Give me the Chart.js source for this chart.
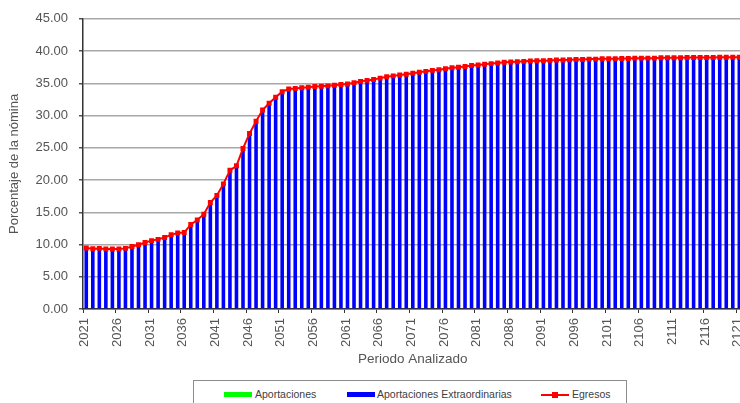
<!DOCTYPE html>
<html>
<head>
<meta charset="utf-8">
<script src="https://cdn.jsdelivr.net/npm/chart.js@4/dist/chart.umd.min.js"></script>
<style>
  html, body { margin: 0; padding: 0; background: #fff; overflow: hidden; width: 740px; height: 403px; }
  #wrap { position: relative; width: 740px; height: 403px; overflow: hidden; }
  #chart { position: absolute; left: 0; top: 0; }
  #legend { position: absolute; left: 193px; top: 380px; width: 432px; height: 40px; border: 1px solid #8c8c8c; background: #fff; }
  .lg { position: absolute; font: 10.5px "Liberation Sans", Arial, sans-serif; color: #404040; top: 7px; line-height: 12px; white-space: nowrap; }
  .sw { position: absolute; top: 11px; width: 28px; height: 5px; }
</style>
</head>
<body>
<div id="wrap">
  <canvas id="chart" width="760" height="403"></canvas>
  <div id="legend">
    <div class="sw" style="left:30px;background:#00ff00"></div>
    <div class="lg" style="left:61px">Aportaciones</div>
    <div class="sw" style="left:153px;background:#0000ff"></div>
    <div class="lg" style="left:183px">Aportaciones Extraordinarias</div>
    <div class="sw" style="left:347px;top:13px;height:2px;background:#ff0000"></div>
    <div class="sw" style="left:358px;top:11px;width:6px;height:6px;background:#ff0000"></div>
    <div class="lg" style="left:378px">Egresos</div>
  </div>
</div>
<script>
const years = [
  2021, 2022, 2023, 2024, 2025, 2026, 2027, 2028, 2029, 2030,
  2031, 2032, 2033, 2034, 2035, 2036, 2037, 2038, 2039, 2040,
  2041, 2042, 2043, 2044, 2045, 2046, 2047, 2048, 2049, 2050,
  2051, 2052, 2053, 2054, 2055, 2056, 2057, 2058, 2059, 2060,
  2061, 2062, 2063, 2064, 2065, 2066, 2067, 2068, 2069, 2070,
  2071, 2072, 2073, 2074, 2075, 2076, 2077, 2078, 2079, 2080,
  2081, 2082, 2083, 2084, 2085, 2086, 2087, 2088, 2089, 2090,
  2091, 2092, 2093, 2094, 2095, 2096, 2097, 2098, 2099, 2100,
  2101, 2102, 2103, 2104, 2105, 2106, 2107, 2108, 2109, 2110,
  2111, 2112, 2113, 2114, 2115, 2116, 2117, 2118, 2119, 2120,
  2121
];

const aportaciones = [
  0, 0, 0, 0, 0, 0, 0, 0, 0, 0,
  0, 0, 0, 0, 0, 0, 0, 0, 0, 0,
  0, 0, 0, 0, 0, 0, 0, 0, 0, 0,
  0, 0, 0, 0, 0, 0, 0, 0, 0, 0,
  0, 0, 0, 0, 0, 0, 0, 0, 0, 0,
  0, 0, 0, 0, 0, 0, 0, 0, 0, 0,
  0, 0, 0, 0, 0, 0, 0, 0, 0, 0,
  0, 0, 0, 0, 0, 0, 0, 0, 0, 0,
  0, 0, 0, 0, 0, 0, 0, 0, 0, 0,
  0, 0, 0, 0, 0, 0, 0, 0, 0, 0,
  0
];

const aportacionesExtra = [
  9.45, 9.35, 9.40, 9.30, 9.30, 9.30, 9.40, 9.70, 9.95, 10.30,
  10.60, 10.80, 11.10, 11.50, 11.80, 11.85, 13.10, 13.80, 14.70, 16.50,
  17.60, 19.40, 21.50, 22.20, 24.90, 27.20, 29.10, 30.85, 31.90, 32.85,
  33.70, 34.10, 34.20, 34.30, 34.40, 34.50, 34.55, 34.60, 34.70, 34.80,
  34.90, 35.10, 35.30, 35.45, 35.60, 35.80, 36.00, 36.15, 36.30, 36.40,
  36.55, 36.70, 36.85, 37.00, 37.10, 37.25, 37.40, 37.50, 37.60, 37.75,
  37.85, 37.95, 38.05, 38.15, 38.25, 38.30, 38.35, 38.40, 38.45, 38.50,
  38.50, 38.55, 38.60, 38.60, 38.65, 38.70, 38.70, 38.75, 38.75, 38.80,
  38.80, 38.80, 38.85, 38.85, 38.90, 38.90, 38.90, 38.90, 38.95, 38.95,
  38.95, 38.95, 39.00, 39.00, 39.00, 39.00, 39.00, 39.05, 39.05, 39.05,
  39.05
];

const egresos = [
  9.45, 9.35, 9.40, 9.30, 9.30, 9.30, 9.40, 9.70, 9.95, 10.30,
  10.60, 10.80, 11.10, 11.50, 11.80, 11.85, 13.10, 13.80, 14.70, 16.50,
  17.60, 19.40, 21.50, 22.20, 24.90, 27.20, 29.10, 30.85, 31.90, 32.85,
  33.70, 34.10, 34.20, 34.30, 34.40, 34.50, 34.55, 34.60, 34.70, 34.80,
  34.90, 35.10, 35.30, 35.45, 35.60, 35.80, 36.00, 36.15, 36.30, 36.40,
  36.55, 36.70, 36.85, 37.00, 37.10, 37.25, 37.40, 37.50, 37.60, 37.75,
  37.85, 37.95, 38.05, 38.15, 38.25, 38.30, 38.35, 38.40, 38.45, 38.50,
  38.50, 38.55, 38.60, 38.60, 38.65, 38.70, 38.70, 38.75, 38.75, 38.80,
  38.80, 38.80, 38.85, 38.85, 38.90, 38.90, 38.90, 38.90, 38.95, 38.95,
  38.95, 38.95, 39.00, 39.00, 39.00, 39.00, 39.00, 39.05, 39.05, 39.05,
  39.05
];

const yTicks = [0, 5, 10, 15, 20, 25, 30, 35, 40, 45];

const textColor = '#555555';
const fontFamily = '"Liberation Sans", Arial, sans-serif';

const ctx = document.getElementById('chart').getContext('2d');
new Chart(ctx, {
  type: 'bar',
  data: {
    labels: years.map(String),
    datasets: [
      {
        type: 'line',
        label: 'Egresos',
        data: egresos,
        borderColor: '#ff0000',
        backgroundColor: '#ff0000',
        borderWidth: 2,
        pointStyle: 'rect',
        pointRadius: 3.5,
        pointBorderWidth: 0,
        tension: 0,
        order: 1
      },
      {
        label: 'Aportaciones',
        data: aportaciones,
        backgroundColor: '#00ff00',
        barPercentage: 0.55,
        categoryPercentage: 1,
        order: 2
      },
      {
        label: 'Aportaciones Extraordinarias',
        data: aportacionesExtra,
        backgroundColor: '#0000ff',
        barPercentage: 0.55,
        categoryPercentage: 1,
        order: 3
      }
    ]
  },
  options: {
    responsive: false,
    animation: false,
    layout: { padding: { top: 15, bottom: 36, left: 0, right: 16.5 } },
    plugins: {
      legend: { display: false },
      tooltip: { enabled: false }
    },
    scales: {
      x: {
        stacked: true,
        afterFit: (s) => { s.height = 58; },
        grid: {
          drawOnChartArea: false,
          drawTicks: true,
          tickLength: 4,
          color: (c) => (c.index % 5 === 0 ? '#333333' : 'rgba(0,0,0,0)')
        },
        border: { color: '#333333', width: 1.5 },
        ticks: {
          autoSkip: false,
          minRotation: 90,
          maxRotation: 90,
          padding: 5,
          labelOffset: -1.5,
          color: textColor,
          font: { family: fontFamily, size: 13 },
          callback: function (v, i) { return i % 5 === 0 ? this.getLabelForValue(v) : ''; }
        },
        title: {
          display: true,
          text: 'Periodo Analizado',
          color: textColor,
          font: { family: fontFamily, size: 13.5 },
          padding: { top: 0, bottom: 0 }
        }
      },
      y: {
        stacked: true,
        min: yTicks[0],
        max: yTicks[yTicks.length - 1],
        afterFit: (s) => { s.width = 83; },
        afterBuildTicks: (s) => { s.ticks = yTicks.map(v => ({ value: v })); },
        grid: {
          color: '#a8a8a8',
          lineWidth: 1.5,
          tickLength: 4,
          tickColor: '#555555'
        },
        border: { color: '#333333', width: 1.5 },
        ticks: {
          padding: 11,
          color: textColor,
          font: { family: fontFamily, size: 13 },
          callback: (v) => Number(v).toFixed(2)
        },
        title: {
          display: true,
          text: 'Porcentaje de la nómina',
          color: textColor,
          font: { family: fontFamily, size: 13 },
          padding: { top: 7, bottom: 0 }
        }
      }
    }
  }
});
</script>
</body>
</html>
